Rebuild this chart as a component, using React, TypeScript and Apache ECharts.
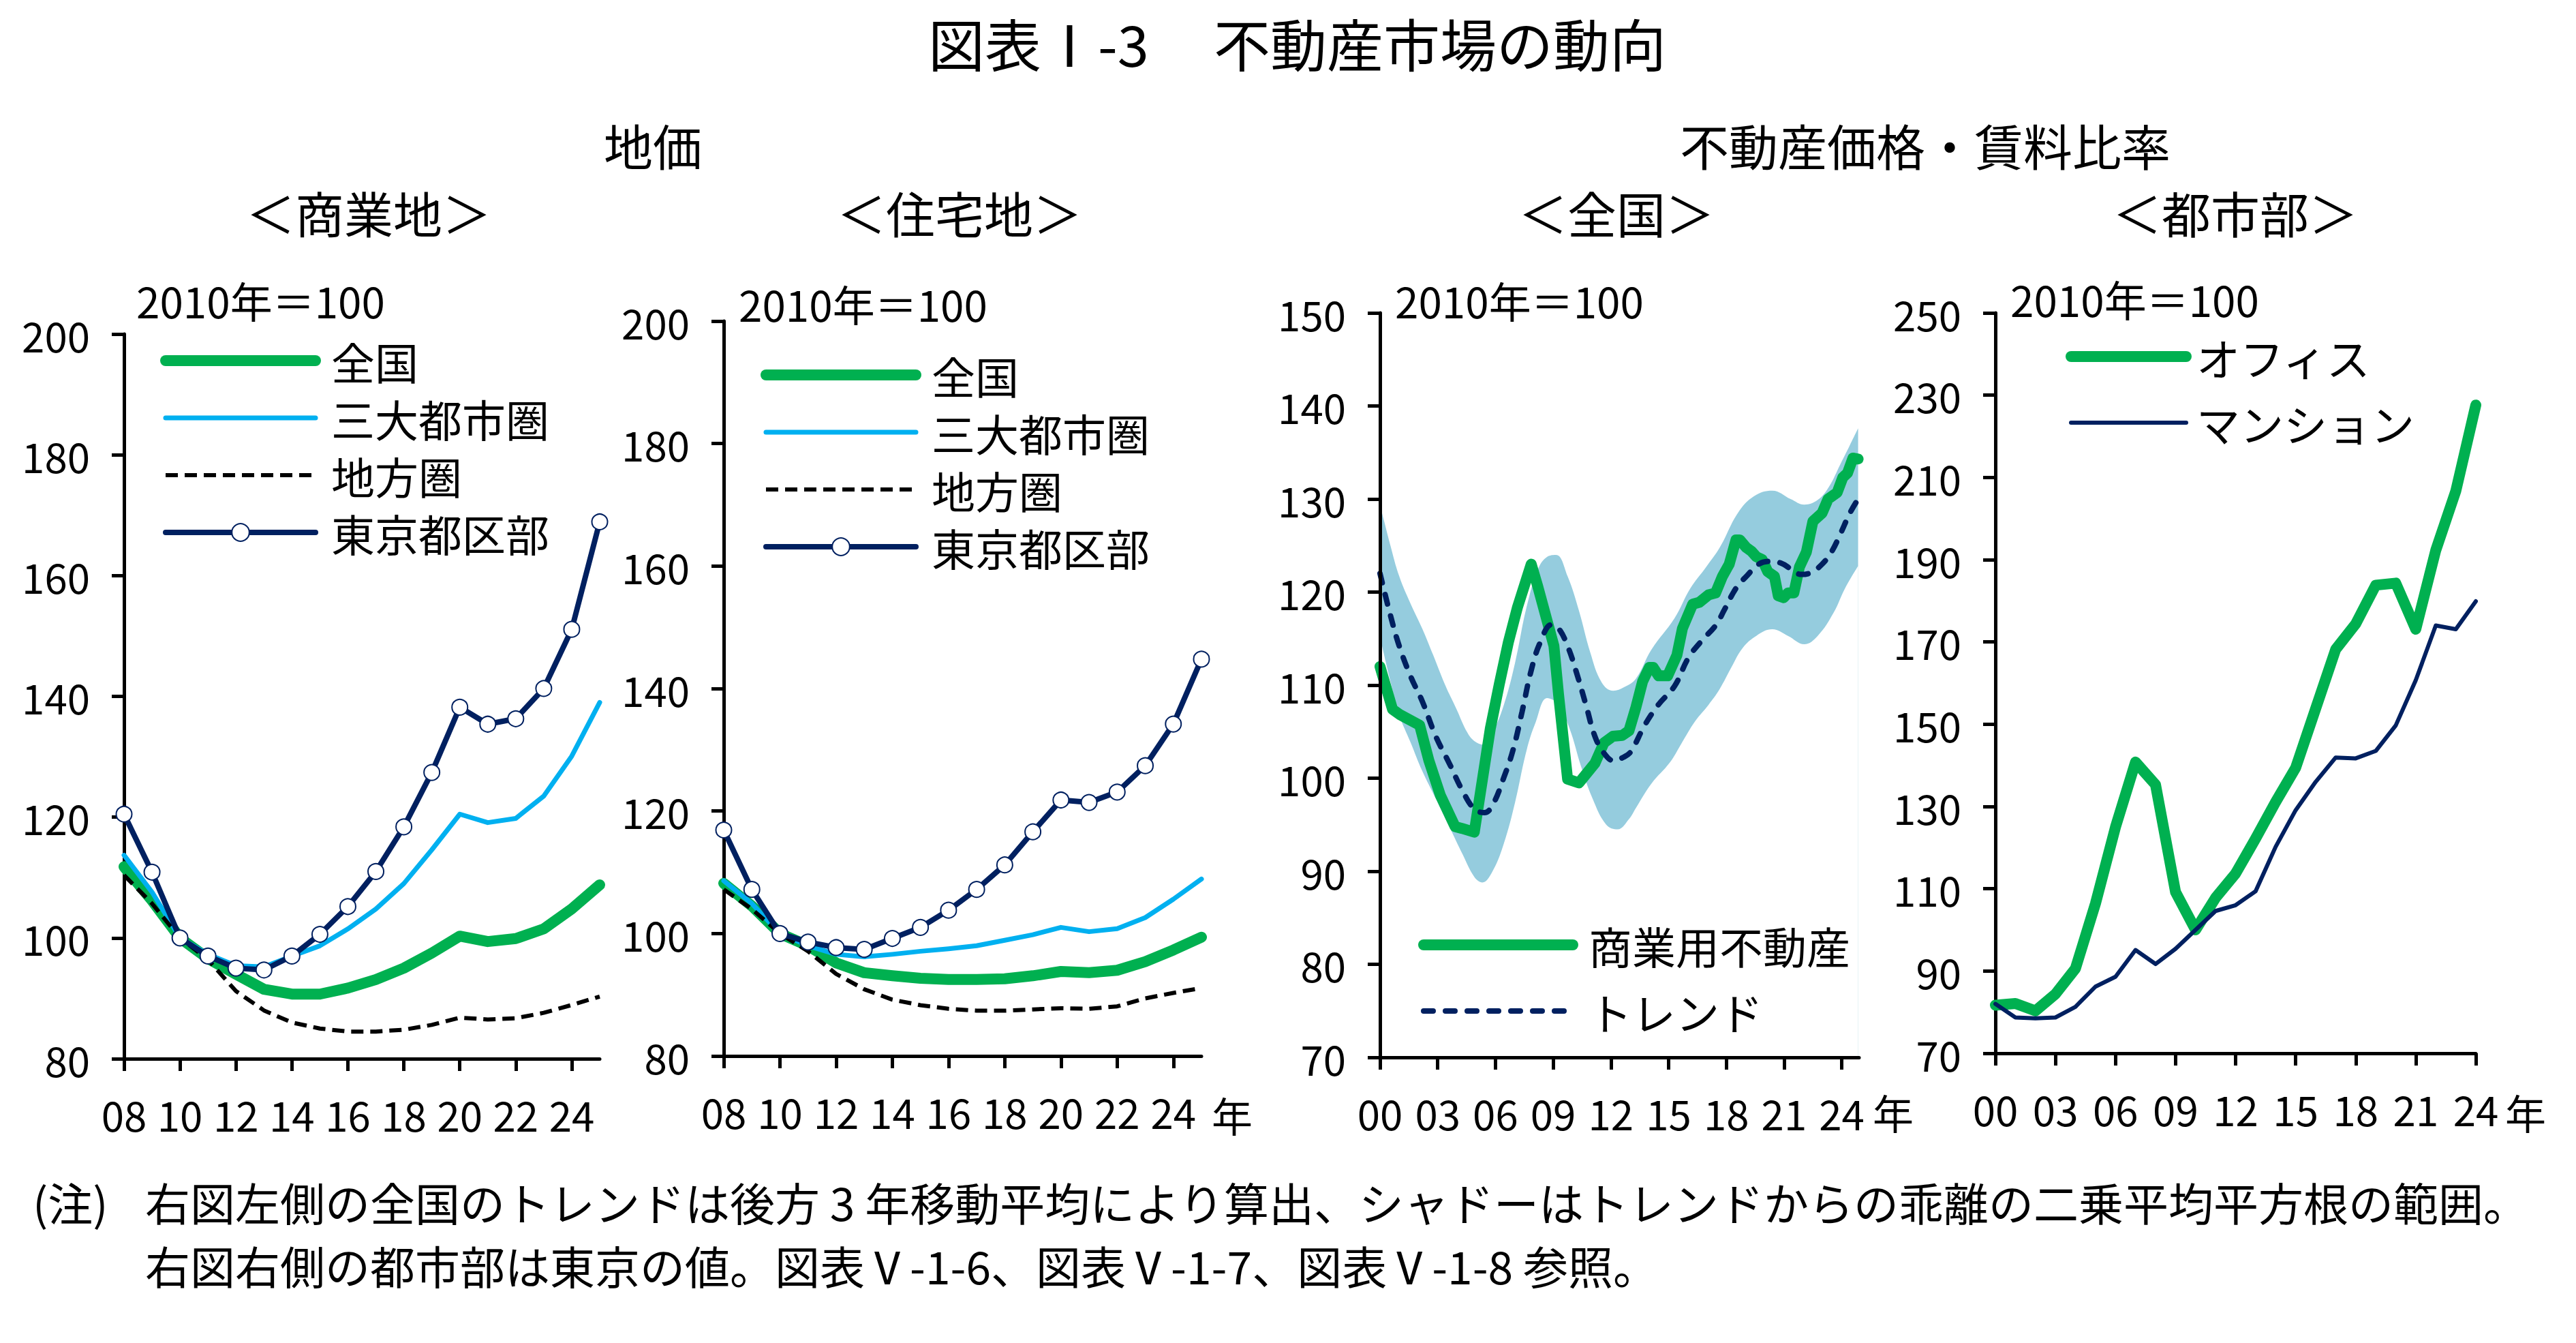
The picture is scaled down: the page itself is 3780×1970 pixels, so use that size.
import { useEffect, useRef } from 'react';
import * as echarts from 'echarts';

const FONT = '"Noto Sans CJK JP", "Noto Sans", sans-serif';
const GREEN = '#00b050';
const SKY = '#00b0f0';
const NAVY = '#002060';
const BAND = '#95ccde';

// 地価 (2010年=100), 2008–2025
const landYears = ['08', '09', '10', '11', '12', '13', '14', '15', '16', '17', '18', '19', '20', '21', '22', '23', '24', '25'];
const commNational = [111.8, 106.2, 100, 96.6, 94.0, 91.5, 90.7, 90.7, 91.7, 93.1, 95.0, 97.5, 100.3, 99.4, 99.9, 101.5, 104.8, 108.8];
const commMetro = [113.7, 107.6, 100, 97.3, 95.4, 95.2, 97.0, 98.7, 101.5, 104.8, 109.0, 114.6, 120.5, 119.1, 119.8, 123.5, 130.1, 139.0];
const commRegional = [110.4, 105.7, 100, 96.4, 91.2, 88.0, 86.0, 85.0, 84.5, 84.5, 84.8, 85.6, 86.8, 86.5, 86.7, 87.6, 88.9, 90.3];
const commTokyo = [120.5, 110.9, 100, 97.0, 95.0, 94.7, 97.0, 100.6, 105.2, 111.0, 118.4, 127.4, 138.2, 135.4, 136.3, 141.3, 151.1, 168.9];

const resNational = [108.2, 104.5, 100, 98.0, 95.2, 93.6, 93.1, 92.7, 92.5, 92.5, 92.6, 93.1, 93.8, 93.6, 94.0, 95.4, 97.3, 99.4];
const resMetro = [108.6, 104.9, 100, 98.0, 96.6, 96.2, 96.6, 97.1, 97.5, 98.0, 98.9, 99.8, 101.0, 100.3, 100.8, 102.6, 105.6, 108.9];
const resRegional = [107.2, 104.0, 100, 97.1, 93.4, 90.9, 89.2, 88.3, 87.7, 87.4, 87.4, 87.6, 87.8, 87.7, 88.1, 89.4, 90.3, 91.1];
const resTokyo = [116.9, 107.2, 100, 98.6, 97.7, 97.4, 99.2, 101.0, 103.8, 107.2, 111.2, 116.6, 121.8, 121.4, 123.1, 127.4, 134.2, 144.8];

// 不動産価格・賃料比率 <全国>: [years since 2000, index]
const cre: number[][] = [
  [0, 112.0], [0.65, 107.4], [1.06, 106.8], [2.06, 105.7], [2.54, 101.9], [3.13, 98.2], [3.9, 94.8], [4.26, 94.6],
  [4.9, 94.2], [5.73, 105.3], [6.2, 110.1], [6.67, 114.6], [7.15, 118.4], [7.86, 123.0], [8.2, 120.6], [9.04, 114.2],
  [9.28, 109.0], [9.75, 99.9], [10.34, 99.5], [11.17, 101.6], [11.64, 103.8], [12.1, 104.5], [12.59, 104.6], [12.94, 105.1],
  [13.3, 107.6], [13.65, 110.4], [14.0, 111.9], [14.2, 111.9], [14.48, 111.0], [14.95, 111.0], [15.43, 113.2], [15.72, 116.1],
  [16.25, 118.7], [16.6, 118.9], [17.08, 119.7], [17.44, 119.9], [17.8, 121.7], [18.15, 123.0], [18.5, 125.6], [18.7, 125.6],
  [19.03, 124.8], [19.3, 124.4], [19.56, 123.8], [19.86, 123.5], [20.15, 122.2], [20.5, 121.7], [20.7, 119.6], [20.98, 119.4],
  [21.2, 119.9], [21.51, 119.9], [21.8, 122.7], [22.16, 124.3], [22.5, 127.6], [22.98, 128.5], [23.29, 130.0], [23.76, 130.7],
  [24.05, 132.3], [24.3, 132.8], [24.58, 134.4], [24.85, 134.3],
];
const trend: number[][] = [
  [0, 122.0], [0.53, 117.6], [1.0, 114.2], [1.6, 110.9], [2.19, 108.3], [2.9, 104.5], [3.6, 101.6], [4.3, 98.6],
  [4.9, 96.7], [5.43, 96.3], [5.85, 97.1], [6.44, 100.1], [6.91, 103.0], [7.38, 107.1], [7.86, 111.6], [8.33, 114.6],
  [8.92, 116.5], [9.28, 116.1], [9.75, 114.2], [10.22, 111.3], [10.7, 107.9], [11.17, 104.5], [11.64, 102.7], [12.12, 101.9],
  [12.7, 102.3], [13.05, 102.9], [13.76, 105.7], [14.47, 107.9], [15.31, 109.9], [16.02, 112.9], [16.73, 114.8], [17.44, 116.4],
  [17.9, 118.1], [18.5, 120.4], [19.09, 121.8], [19.68, 123.0], [20.27, 123.3], [20.86, 123.1], [21.34, 122.5], [21.9, 121.9],
  [22.4, 122.1], [22.98, 123.0], [23.46, 124.3], [23.94, 126.3], [24.4, 128.4], [24.82, 129.9],
];
const bandUpper: number[][] = [
  [0, 129.4], [0.53, 125.1], [1.0, 121.7], [1.6, 118.7], [2.19, 116.1], [2.77, 113.2], [3.37, 110.1], [3.96, 107.5],
  [4.54, 104.9], [4.9, 104.0], [5.38, 103.6], [5.85, 104.9], [6.44, 107.9], [7.02, 112.4], [7.62, 118.4], [8.22, 122.5],
  [8.69, 123.8], [9.15, 124.0], [9.75, 121.7], [10.34, 118.0], [10.93, 113.5], [11.52, 110.3], [12.12, 109.4], [12.7, 109.8],
  [13.3, 110.7], [14.1, 113.8], [15.31, 117.2], [16.13, 120.4], [16.95, 122.7], [17.66, 124.8], [18.6, 128.5], [19.43, 130.3],
  [20.39, 130.9], [21.34, 130.0], [22.05, 129.4], [22.75, 129.9], [23.33, 131.3], [23.94, 133.8], [24.4, 135.7], [24.85, 137.6],
];
const bandLower: number[][] = [
  [0, 115.2], [0.53, 110.5], [1.0, 106.8], [1.6, 103.8], [2.19, 100.8], [2.9, 97.8], [3.6, 94.8], [4.3, 91.8],
  [4.9, 89.4], [5.32, 88.8], [5.85, 90.0], [6.44, 93.0], [7.02, 97.4], [7.62, 103.0], [8.09, 106.0], [8.69, 108.6],
  [9.28, 107.9], [9.86, 105.3], [10.46, 101.2], [11.05, 97.8], [11.76, 95.0], [12.35, 94.5], [12.94, 95.6], [13.3, 96.8],
  [14.1, 99.4], [15.07, 101.7], [15.66, 103.7], [16.37, 106.1], [17.08, 107.9], [17.66, 109.6], [18.26, 111.9], [18.85, 114.0],
  [19.56, 115.3], [20.39, 116.0], [21.2, 115.3], [22.05, 114.4], [22.75, 115.3], [23.58, 117.8], [24.17, 120.4], [24.85, 122.8],
];
const yearTicks3 = [0, 3, 6, 9, 12, 15, 18, 21, 24];

// <都市部> 2000–2024
const rentYears = ['00', '01', '02', '03', '04', '05', '06', '07', '08', '09', '10', '11', '12', '13', '14', '15', '16', '17', '18', '19', '20', '21', '22', '23', '24'];
const office = [81.7, 82.1, 80.3, 84.4, 90.6, 106.4, 125.0, 140.8, 135.3, 109.2, 100, 107.8, 113.7, 122.2, 131.1, 139.4, 153.8, 168.2, 174.4, 183.8, 184.3, 173.1, 192.3, 206.7, 227.6];
const mansion = [82.0, 78.7, 78.5, 78.7, 81.3, 86.2, 88.6, 95.1, 91.7, 95.4, 100, 104.6, 106.0, 109.4, 120.2, 129.1, 136.0, 141.9, 141.7, 143.5, 149.7, 160.7, 174.0, 173.1, 179.9];
const urbanTicks = [70, 90, 110, 130, 150, 170, 190, 210, 230, 250];

const axisLine = { show: true, onZero: false, lineStyle: { color: '#000', width: 5 } };
const axisTick = { show: true, length: 18, lineStyle: { color: '#000', width: 5 } };
const labelText = { fontSize: 60, fontFamily: FONT, color: '#000' };

function text(t: string, x: number, y: number, size: number, align = 'center') {
  return {
    type: 'text',
    x,
    y,
    silent: true,
    style: {
      text: t,
      fill: '#000',
      fontSize: size,
      fontFamily: FONT,
      textAlign: align,
      textVerticalAlign: 'middle',
      align,
      verticalAlign: 'middle',
    },
  };
}

function line(name: string, data: any[], idx: number, color: string, width: number, extra: any = {}) {
  return {
    name,
    type: 'line',
    data,
    xAxisIndex: idx,
    yAxisIndex: idx,
    symbol: 'none',
    lineStyle: { color, width, cap: 'round', join: 'round' },
    itemStyle: { color },
    emphasis: { disabled: true },
    ...extra,
  };
}

function landSeries(idx: number, nat: number[], metro: number[], reg: number[], tokyo: number[]) {
  return [
    line('全国', nat, idx, GREEN, 16),
    line('三大都市圏', metro, idx, SKY, 7),
    line('地方圏', reg, idx, '#000', 6, { lineStyle: { color: '#000', width: 6, type: [18, 10] } }),
    line('東京都区部', tokyo, idx, NAVY, 8, {
      symbol: 'emptyCircle',
      symbolSize: 23,
      itemStyle: { color: NAVY, borderWidth: 5 },
    }),
  ];
}

const legendText = (pad: number) => ({
  fontSize: 64,
  fontFamily: FONT,
  color: '#000',
  lineHeight: 64,
  padding: [0, 0, 0, pad],
});

const noSymbol = { opacity: 0 };

function landLegend(left: number, top: number) {
  return {
    orient: 'vertical',
    left,
    top,
    padding: 0,
    itemGap: 20,
    itemWidth: 220,
    itemHeight: 32,
    selectedMode: false,
    textStyle: legendText(18),
    data: [
      { name: '全国', lineStyle: { width: 16, cap: 'round' }, itemStyle: noSymbol },
      { name: '三大都市圏', lineStyle: { width: 7, cap: 'round' }, itemStyle: noSymbol },
      { name: '地方圏', lineStyle: { width: 6 }, itemStyle: noSymbol },
      { name: '東京都区部', lineStyle: { width: 8, cap: 'round' } },
    ],
  };
}

export default function App() {
  const ref = useRef<HTMLDivElement>(null);

  useEffect(() => {
    document.body.style.margin = '0';
    if (!ref.current) return;
    const chart = echarts.init(ref.current, undefined, { renderer: 'svg' });

    const yAxisBase = {
      type: 'value',
      axisLine,
      axisTick,
      splitLine: { show: false },
      axisLabel: { ...labelText, margin: 50 },
    };

    const option: any = {
      animation: false,
      backgroundColor: '#fff',
      grid: [
        { left: 182, top: 490, width: 698, height: 1063 },
        { left: 1062, top: 471, width: 701, height: 1078 },
        { left: 2025, top: 459, width: 703, height: 1092 },
        { left: 2928, top: 459, width: 705, height: 1086 },
      ],
      xAxis: [
        {
          type: 'category', gridIndex: 0, data: landYears, boundaryGap: false,
          axisLine, axisTick: { ...axisTick, interval: 1 },
          axisLabel: { ...labelText, interval: 1, margin: 50 },
        },
        {
          type: 'category', gridIndex: 1, data: landYears, boundaryGap: false,
          axisLine, axisTick: { ...axisTick, interval: 1 },
          axisLabel: { ...labelText, interval: 1, margin: 50 },
        },
        {
          type: 'value', gridIndex: 2, min: 0, max: 24.9, z: 10,
          axisLine, axisTick: { ...axisTick, customValues: yearTicks3 },
          splitLine: { show: false },
          axisLabel: {
            ...labelText, margin: 50, customValues: yearTicks3,
            formatter: (v: number) => String(v).padStart(2, '0'),
          },
        },
        {
          type: 'category', gridIndex: 3, data: rentYears, boundaryGap: false,
          axisLine, axisTick: { ...axisTick, interval: 2 },
          axisLabel: { ...labelText, interval: 2, margin: 50 },
        },
      ],
      yAxis: [
        { ...yAxisBase, gridIndex: 0, min: 80, max: 200, interval: 20 },
        { ...yAxisBase, gridIndex: 1, min: 80, max: 200, interval: 20 },
        { ...yAxisBase, gridIndex: 2, min: 70, max: 150, interval: 10, z: 10 },
        {
          ...yAxisBase, gridIndex: 3, min: 70, max: 250,
          axisTick: { ...axisTick, customValues: urbanTicks },
          axisLabel: { ...labelText, margin: 50, customValues: urbanTicks },
        },
      ],
      legend: [
        landLegend(235, 497),
        landLegend(1116, 518),
        {
          orient: 'vertical', left: 2081, top: 1354, padding: 0, itemGap: 33,
          itemWidth: 219, itemHeight: 28, selectedMode: false, textStyle: legendText(18),
          data: [
            { name: '商業用不動産', lineStyle: { width: 16, cap: 'round' }, itemStyle: noSymbol },
            { name: 'トレンド', lineStyle: { width: 8, cap: 'round' }, itemStyle: noSymbol },
          ],
        },
        {
          orient: 'vertical', left: 3031, top: 491, padding: 0, itemGap: 33,
          itemWidth: 169, itemHeight: 28, selectedMode: false, textStyle: legendText(10),
          data: [
            { name: 'オフィス', lineStyle: { width: 16, cap: 'round' }, itemStyle: noSymbol },
            { name: 'マンション', lineStyle: { width: 6, cap: 'round' }, itemStyle: noSymbol },
          ],
        },
      ],
      series: [
        ...landSeries(0, commNational, commMetro, commRegional, commTokyo),
        ...landSeries(1, resNational, resMetro, resRegional, resTokyo),
        line('shade-upper', bandUpper, 2, BAND, 0, {
          smooth: 0.4, silent: true, z: 1,
          lineStyle: { width: 0 },
          areaStyle: { color: BAND, opacity: 1, origin: 'start' },
        }),
        line('shade-lower', bandLower, 2, '#fff', 0, {
          smooth: 0.4, silent: true, z: 1,
          lineStyle: { width: 0 },
          areaStyle: { color: '#fff', opacity: 1, origin: 'start' },
        }),
        line('商業用不動産', cre, 2, GREEN, 16),
        line('トレンド', trend, 2, NAVY, 8, {
          smooth: 0.4,
          lineStyle: { color: NAVY, width: 8, type: [14, 18], cap: 'round' },
        }),
        line('オフィス', office, 3, GREEN, 16),
        line('マンション', mansion, 3, NAVY, 6),
      ],
      graphic: [
        text('図表Ⅰ-3', 1362, 62, 83, 'left'),
        text('不動産市場の動向', 1781, 62, 83, 'left'),
        text('地価', 958, 211, 72),
        text('不動産価格・賃料比率', 2825, 211, 72),
        text('＜商業地＞', 541, 310, 72),
        text('＜住宅地＞', 1408, 310, 72),
        text('＜全国＞', 2372, 310, 72),
        text('＜都市部＞', 3280, 310, 72),
        text('2010年＝100', 200, 440, 62, 'left'),
        text('2010年＝100', 1084, 445, 62, 'left'),
        text('2010年＝100', 2047, 440, 62, 'left'),
        text('2010年＝100', 2950, 438, 62, 'left'),
        text('年', 1808, 1634, 60),
        text('年', 2778, 1630, 60),
        text('年', 3706, 1630, 60),
        text('(注)', 48, 1762, 66, 'left'),
        text('右図左側の全国のトレンドは後方 3 年移動平均により算出、シャドーはトレンドからの乖離の二乗平均平方根の範囲。', 213, 1762, 66, 'left'),
        text('右図右側の都市部は東京の値。図表Ⅴ-1-6、図表Ⅴ-1-7、図表Ⅴ-1-8 参照。', 213, 1855, 66, 'left'),
      ],
    };

    chart.setOption(option);
    return () => chart.dispose();
  }, []);

  return <div ref={ref} style={{ width: 3780, height: 1970, background: '#fff' }} />;
}
